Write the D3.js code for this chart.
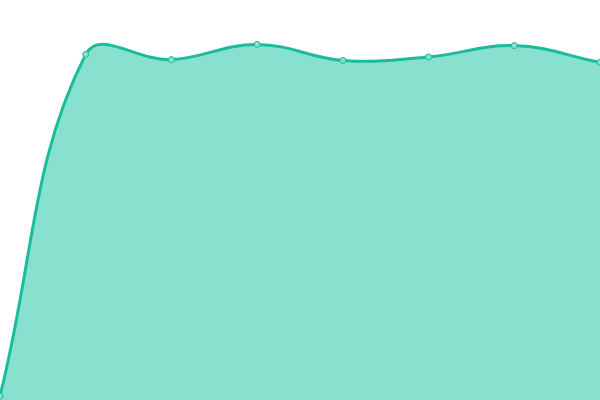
<html>
  <head>
    <script src="https://cdnjs.cloudflare.com/ajax/libs/d3/7.8.5/d3.min.js"></script>
    <style>
      body { margin: 0; background: #fff; }
      svg { display: block; }
    </style>
  </head>
  <body>
    <svg id="chart"></svg>
    <script>
      // Data
      const labels = ['1', '2', '3', '4', '5', '6', '7', '8'];
      const values = [1, 86.4, 85.1, 88.9, 84.9, 85.75, 88.6, 84.4];

      const width = 600;
      const height = 400;
      const lineColor = '#1abc9c';
      const fillColor = '#88e0cf';

      const svg = d3.select('#chart')
        .attr('width', width)
        .attr('height', height);

      const x = d3.scalePoint().domain(labels).range([0, width]);
      const y = d3.scaleLinear().domain([0, 100]).range([height, 0]);

      const pts = labels.map((l, i) => ({ x: x(l), y: y(values[i]) }));

      // Spline control points (tension 0.4, distance weighted)
      const tension = 0.4;
      const ctrl = pts.map((p, i) => {
        const prev = pts[i - 1] || p;
        const next = pts[i + 1] || p;
        const d01 = Math.hypot(p.x - prev.x, p.y - prev.y);
        const d12 = Math.hypot(next.x - p.x, next.y - p.y);
        let fa = d01 / (d01 + d12);
        let fb = d12 / (d01 + d12);
        if (isNaN(fa)) fa = 0;
        if (isNaN(fb)) fb = 0;
        fa *= tension;
        fb *= tension;
        const cap = v => Math.max(0, Math.min(height, v));
        return {
          px: Math.max(0, Math.min(width, p.x - fa * (next.x - prev.x))),
          py: cap(p.y - fa * (next.y - prev.y)),
          nx: Math.max(0, Math.min(width, p.x + fb * (next.x - prev.x))),
          ny: cap(p.y + fb * (next.y - prev.y))
        };
      });

      function spline(path) {
        pts.forEach((p, i) => {
          if (i === 0) { path.lineTo(p.x, p.y); return; }
          const a = ctrl[i - 1], b = ctrl[i];
          path.bezierCurveTo(a.nx, a.ny, b.px, b.py, p.x, p.y);
        });
        return path;
      }

      const area = d3.path();
      area.moveTo(pts[0].x, y(0));
      spline(area);
      area.lineTo(pts[pts.length - 1].x, y(0));
      area.closePath();

      const line = d3.path();
      line.moveTo(pts[0].x, pts[0].y);
      spline(line);

      svg.append('path')
        .attr('d', area.toString())
        .attr('fill', fillColor);

      svg.append('path')
        .attr('d', line.toString())
        .attr('fill', 'none')
        .attr('stroke', lineColor)
        .attr('stroke-width', 3);

      svg.append('g')
        .selectAll('circle')
        .data(pts)
        .enter().append('circle')
        .attr('cx', d => d.x)
        .attr('cy', d => d.y)
        .attr('r', 3)
        .attr('fill', fillColor)
        .attr('stroke', lineColor)
        .attr('stroke-width', 1);
    </script>
  </body>
</html>
